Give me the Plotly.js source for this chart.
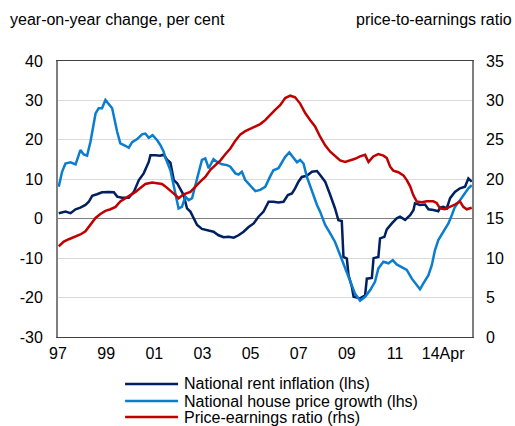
<!DOCTYPE html>
<html>
<head>
<meta charset="utf-8">
<script src="https://cdn.plot.ly/plotly-3.0.1.min.js"></script>
<style>html,body{margin:0;padding:0;background:#fff;}#chart{width:515px;height:426px;}</style>
</head>
<body>
<div id="chart"></div>
<script>
// National rent inflation (lhs), year-on-year %
const rentX = [1997.03,1997.31,1997.52,1997.73,1997.93,1998.14,1998.28,1998.42,1998.62,1998.83,1999.11,1999.32,1999.46,1999.66,1999.94,2000.15,2000.36,2000.56,2000.77,2000.84,2001.05,2001.25,2001.39,2001.53,2001.67,2001.81,2001.95,2002.08,2002.22,2002.36,2002.50,2002.64,2002.78,2002.98,2003.26,2003.46,2003.67,2003.88,2004.09,2004.30,2004.50,2004.71,2004.92,2005.13,2005.33,2005.54,2005.75,2005.95,2006.16,2006.37,2006.55,2006.72,2006.85,2006.99,2007.13,2007.34,2007.55,2007.76,2007.89,2008.10,2008.31,2008.51,2008.65,2008.79,2008.86,2009.00,2009.07,2009.21,2009.28,2009.55,2009.76,2009.83,2010.04,2010.11,2010.31,2010.38,2010.56,2010.66,2010.87,2011.07,2011.21,2011.42,2011.63,2011.77,2011.83,2012.04,2012.25,2012.39,2012.60,2012.80,2012.87,2013.01,2013.15,2013.29,2013.49,2013.70,2013.91,2014.05,2014.19];
const rentY = [1.4,1.8,1.4,2.4,2.8,3.5,4.3,5.8,6.2,6.7,6.8,6.7,5.6,5.3,5.3,6.8,9.8,11.5,14.4,16.1,16.1,16.0,16.3,15.0,14.2,9.8,9.0,7.7,6.0,2.6,1.8,0.1,-1.6,-2.6,-3.0,-3.3,-4.2,-4.7,-4.6,-4.8,-4.2,-3.3,-2.1,-1.2,0.5,1.8,4.3,4.3,4.1,4.3,6.0,6.4,7.7,9.4,10.6,10.9,11.9,12.1,11.1,9.4,6.0,2.6,-0.4,-0.6,-9.7,-10.1,-14.3,-17.3,-19.8,-20.2,-19.4,-15.2,-15.0,-10.0,-9.7,-5.0,-4.6,-2.7,-1.2,0.1,0.5,-0.3,0.9,2.2,3.9,3.5,3.6,2.4,2.2,1.9,2.8,3.0,2.6,5.2,6.8,7.7,8.1,10.2,9.4];

// National house price growth (lhs), year-on-year %
const houseX = [1997.03,1997.17,1997.31,1997.52,1997.73,1997.93,1998.07,1998.21,1998.35,1998.56,1998.69,1998.83,1998.97,1999.11,1999.25,1999.46,1999.59,1999.80,1999.94,2000.08,2000.29,2000.49,2000.63,2000.77,2000.93,2001.12,2001.25,2001.39,2001.46,2001.67,2001.88,2002.01,2002.15,2002.29,2002.43,2002.57,2002.78,2002.98,2003.12,2003.26,2003.46,2003.61,2003.81,2004.02,2004.16,2004.37,2004.50,2004.64,2004.78,2004.99,2005.20,2005.40,2005.61,2005.82,2005.95,2006.16,2006.30,2006.44,2006.61,2006.78,2006.93,2007.06,2007.20,2007.34,2007.55,2007.76,2007.89,2008.10,2008.31,2008.51,2008.72,2008.93,2009.14,2009.34,2009.55,2009.76,2009.97,2010.17,2010.31,2010.52,2010.73,2010.91,2011.07,2011.28,2011.49,2011.70,2011.90,2012.04,2012.18,2012.39,2012.53,2012.66,2012.80,2013.01,2013.22,2013.36,2013.49,2013.70,2013.91,2014.05,2014.19];
const houseY = [8.1,11.9,14.0,14.3,13.8,17.4,16.3,16.0,19.5,26.7,28.0,28.0,30.1,29.0,28.0,22.0,19.1,18.5,18.0,19.4,20.2,21.4,21.6,20.5,21.2,19.9,18.7,17.0,15.5,12.3,6.8,2.6,3.0,5.6,4.7,5.2,10.2,14.9,15.3,12.8,15.1,14.4,13.8,13.6,13.2,11.5,11.2,11.9,9.8,8.3,7.0,7.3,8.1,10.8,12.3,12.8,14.4,15.7,16.8,15.3,14.3,14.9,14.0,10.6,6.8,3.5,1.8,-1.6,-3.7,-5.9,-9.2,-12.6,-16.0,-19.0,-20.8,-19.8,-18.1,-16.0,-12.6,-10.9,-11.3,-10.5,-11.6,-12.2,-13.0,-15.2,-16.9,-17.9,-16.4,-14.3,-11.8,-8.0,-5.4,-3.3,-1.2,0.9,3.0,4.7,6.4,7.7,8.5];

// Price-earnings ratio (rhs)
const peX = [1997.03,1997.24,1997.45,1997.73,1997.93,1998.14,1998.35,1998.56,1998.76,1998.97,1999.18,1999.39,1999.59,1999.80,2000.01,2000.22,2000.42,2000.63,2000.91,2001.12,2001.32,2001.46,2001.67,2001.88,2002.01,2002.22,2002.50,2002.71,2002.91,2003.12,2003.33,2003.54,2003.75,2003.96,2004.16,2004.37,2004.58,2004.78,2004.99,2005.20,2005.40,2005.61,2005.82,2006.02,2006.23,2006.44,2006.65,2006.85,2007.06,2007.27,2007.48,2007.68,2007.89,2008.10,2008.31,2008.51,2008.72,2008.93,2009.14,2009.34,2009.55,2009.76,2009.90,2010.10,2010.31,2010.52,2010.66,2010.80,2010.93,2011.14,2011.35,2011.49,2011.63,2011.76,2011.90,2012.11,2012.32,2012.59,2012.73,2012.87,2013.08,2013.29,2013.49,2013.70,2013.84,2013.98,2014.19];
const peY = [11.5,12.1,12.4,12.7,13.0,13.4,14.2,15.1,15.6,16.0,16.2,16.5,17.2,17.6,18.0,18.4,18.9,19.4,19.6,19.5,19.4,19.1,18.6,18.0,17.6,18.1,18.4,19.1,19.7,20.3,21.2,21.8,22.4,23.2,23.9,24.9,25.7,26.1,26.4,26.7,27.0,27.5,28.2,28.8,29.4,30.3,30.6,30.4,29.6,28.4,27.5,26.7,25.4,24.3,23.5,22.9,22.4,22.2,22.4,22.6,22.9,23.1,22.2,22.9,23.2,23.0,22.7,21.6,21.1,20.9,20.5,19.9,19.1,18.0,17.2,17.1,17.2,17.2,17.0,16.3,16.2,16.5,16.8,17.2,16.5,16.2,16.4];

const xTickVals = [1997,1999,2001,2003,2005,2007,2009,2011,2013];
const xTickText = ['97','99','01','03','05','07','09','11','14Apr'];
const yTickVals = [-30,-20,-10,0,10,20,30,40];
const yTickText = ['-30','-20','-10','0','10','20','30','40'];
const y2TickVals = [0,5,10,15,20,25,30,35];

const seriesNames = ['National rent inflation (lhs)','National house price growth (lhs)','Price-earnings ratio (rhs)'];
const colors = ['#002060','#0a7dcf','#c00000'];

const FONT = 'Liberation Sans, Arial, sans-serif';

const traces = [
  {x: rentX, y: rentY, name: seriesNames[0], type: 'scatter', mode: 'lines', line: {color: colors[0], width: 2.5}, yaxis: 'y'},
  {x: houseX, y: houseY, name: seriesNames[1], type: 'scatter', mode: 'lines', line: {color: colors[1], width: 2.5}, yaxis: 'y'},
  {x: peX, y: peY, name: seriesNames[2], type: 'scatter', mode: 'lines', line: {color: colors[2], width: 2.5}, yaxis: 'y2'}
];

// manual legend
const legYs = [-0.170, -0.232, -0.290];
const shapes = [];
const annotations = [];
for (let i = 0; i < 3; i++) {
  shapes.push({type: 'line', xref: 'paper', yref: 'paper', x0: 0.162, x1: 0.290, y0: legYs[i], y1: legYs[i], line: {color: colors[i], width: 2.5}});
  annotations.push({xref: 'paper', yref: 'paper', x: 0.300, y: legYs[i], xanchor: 'left', yanchor: 'middle', showarrow: false, text: seriesNames[i], font: {family: FONT, size: 16, color: '#000'}});
}
annotations.push({xref: 'paper', yref: 'paper', x: -0.121, y: 1.149, xanchor: 'left', yanchor: 'middle', showarrow: false, text: 'year-on-year change, per cent', font: {family: FONT, size: 16, color: '#000'}});
annotations.push({xref: 'paper', yref: 'paper', x: 1.101, y: 1.149, xanchor: 'right', yanchor: 'middle', showarrow: false, text: 'price-to-earnings ratio', font: {family: FONT, size: 16, color: '#000'}});

const layout = {
  width: 515, height: 426,
  margin: {l: 58, r: 43, t: 61, b: 89, pad: 0},
  paper_bgcolor: '#fff', plot_bgcolor: '#fff',
  showlegend: false,
  font: {family: FONT, size: 16, color: '#000'},
  xaxis: {range: [1997, 2014.2], tickvals: xTickVals, ticktext: xTickText, showgrid: false, zeroline: false,
          showline: true, mirror: true, linecolor: '#404040', linewidth: 1, ticks: '', ticklabelstandoff: 2,
          tickfont: {family: FONT, size: 16, color: '#000'}, fixedrange: true},
  yaxis: {range: [-30, 40], tickvals: yTickVals, ticktext: yTickText, showgrid: true, gridcolor: '#d9d9d9', gridwidth: 1,
          zeroline: true, zerolinecolor: '#7f7f7f', zerolinewidth: 1.5, showline: true, mirror: true,
          linecolor: '#7f7f7f', linewidth: 2, ticks: '', ticklabelstandoff: 10,
          tickfont: {family: FONT, size: 16, color: '#000'}, fixedrange: true},
  yaxis2: {range: [0, 35], tickvals: y2TickVals, overlaying: 'y', side: 'right', showgrid: false, zeroline: false,
           showline: false, ticks: '', ticklabelstandoff: 13,
           tickfont: {family: FONT, size: 16, color: '#000'}, fixedrange: true},
  shapes: shapes,
  annotations: annotations
};

Plotly.newPlot('chart', traces, layout, {staticPlot: true, displayModeBar: false});
</script>
</body>
</html>
